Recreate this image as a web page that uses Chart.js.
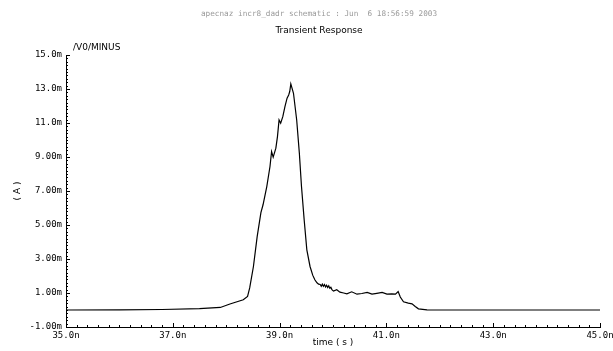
<!DOCTYPE html>
<html>
<head>
<meta charset="utf-8">
<script src="https://cdn.jsdelivr.net/npm/chart.js@4.4.1/dist/chart.umd.min.js"></script>
<style>
  html, body { margin: 0; padding: 0; background: #fff; }
</style>
</head>
<body>
<canvas id="myChart" width="613" height="351"></canvas>
<script>
// time in ns, current in mA
const timeNs = [
  35.0, 36.0, 36.8, 37.5, 37.89, 38.07, 38.32, 38.40, 38.44, 38.51, 38.58, 38.65, 38.69,
  38.76, 38.82, 38.85, 38.88, 38.93, 38.96, 38.99, 39.02, 39.06, 39.10, 39.14, 39.17,
  39.19, 39.21, 39.26, 39.32, 39.37, 39.41, 39.46, 39.51, 39.57, 39.62, 39.66, 39.70,
  39.73, 39.76, 39.78, 39.80, 39.82, 39.84, 39.86, 39.88, 39.90, 39.92, 39.94, 39.96,
  39.98, 40.01, 40.07, 40.13, 40.20, 40.26, 40.35, 40.45, 40.54, 40.64, 40.73, 40.82,
  40.92, 41.01, 41.10, 41.17, 41.22, 41.26, 41.32, 41.41, 41.48, 41.54, 41.60, 41.76,
  41.95, 42.3, 43.0, 44.0, 45.0
];
const currentMA = [
  0.0, 0.01, 0.03, 0.08, 0.15, 0.35, 0.60, 0.80, 1.30, 2.56, 4.32, 5.73, 6.19,
  7.26, 8.44, 9.32, 8.99, 9.52, 10.20, 11.18, 10.99, 11.37, 11.96, 12.46, 12.65,
  12.85, 13.30, 12.75, 11.18, 9.22, 7.26, 5.31, 3.54, 2.56, 2.05, 1.78, 1.60,
  1.52, 1.50, 1.40, 1.52, 1.40, 1.50, 1.36, 1.46, 1.32, 1.42, 1.28, 1.34,
  1.20, 1.11, 1.19, 1.05, 1.00, 0.95, 1.07, 0.93, 0.97, 1.03, 0.93, 0.98,
  1.03, 0.93, 0.95, 0.93, 1.09, 0.76, 0.48, 0.40, 0.36, 0.21, 0.07, 0.01,
  0.0, 0.0, 0.0, 0.0, 0.0
];
const xTicks = [35, 37, 39, 41, 43, 45];
const yTicks = [-1, 1, 3, 5, 7, 9, 11, 13, 15];
const headerText = 'apecnaz incr8_dadr schematic : Jun  6 18:56:59 2003';
const titleText = 'Transient Response';
const traceName = '/V0/MINUS';
const xTitle = 'time ( s )';
const yTitle = '( A )';

// inward major/minor tick marks, like the simulator plot
const axisTicks = {
  id: 'axisTicks',
  afterDraw(chart) {
    const { ctx, chartArea: a, scales: { x, y } } = chart;
    ctx.save();
    ctx.strokeStyle = '#000';
    ctx.lineWidth = 1;
    ctx.beginPath();
    for (let i = 0; i <= 50; i++) {
      const px = Math.round(x.getPixelForValue(x.min + i * 0.2)) + 0.5;
      const len = i % 10 === 0 ? 4 : 2;
      ctx.moveTo(px, a.bottom);
      ctx.lineTo(px, a.bottom - len);
    }
    for (let i = 0; i <= 80; i++) {
      const py = Math.round(y.getPixelForValue(y.min + i * 0.2)) + 0.5;
      const len = i % 10 === 0 ? 4 : 2;
      ctx.moveTo(a.left, py);
      ctx.lineTo(a.left + len, py);
    }
    ctx.stroke();
    ctx.restore();
  }
};

// header lines, trace name and axis titles
const labels = {
  id: 'labels',
  afterDraw(chart) {
    const { ctx, chartArea: a } = chart;
    ctx.save();
    ctx.textBaseline = 'middle';
    ctx.textAlign = 'center';
    ctx.fillStyle = '#9a9a9a';
    ctx.font = '7.7px "DejaVu Sans Mono"';
    ctx.fillText(headerText, 319, 14);
    ctx.fillStyle = '#000';
    ctx.font = '9px "DejaVu Sans"';
    ctx.fillText(titleText, 319, 31);
    ctx.fillText(xTitle, (a.left + a.right) / 2, 343);
    ctx.textAlign = 'left';
    ctx.fillText(traceName, a.left + 7, 48);
    ctx.translate(18, (a.top + a.bottom) / 2);
    ctx.rotate(-Math.PI / 2);
    ctx.textAlign = 'center';
    ctx.fillText(yTitle, 0, 0);
    ctx.restore();
  }
};

const ctx = document.getElementById('myChart').getContext('2d');
const myChart = new Chart(ctx, {
  type: 'line',
  data: {
    datasets: [{
      label: traceName,
      data: timeNs.map((t, i) => ({ x: t, y: currentMA[i] })),
      borderColor: '#000',
      borderWidth: 1.2,
      pointRadius: 0,
      tension: 0,
    }],
  },
  options: {
    responsive: false,
    animation: false,
    layout: { padding: { top: 55, right: 13, left: 0, bottom: 0 } },
    plugins: {
      legend: { display: false },
      tooltip: { enabled: false },
    },
    scales: {
      x: {
        type: 'linear',
        min: 35,
        max: 45,
        afterBuildTicks: (s) => { s.ticks = xTicks.map(v => ({ value: v })); },
        afterFit: (s) => { s.height = 24; s.paddingLeft = 0; s.paddingRight = 0; },
        grid: { display: true, drawOnChartArea: false, drawTicks: false },
        border: { display: true, color: '#000', width: 1 },
        ticks: {
          color: '#000',
          padding: 3,
          maxRotation: 0,
          font: { family: 'DejaVu Sans Mono', size: 9 },
          callback: (v) => v.toPrecision(3) + 'n',
        },
      },
      y: {
        min: -1,
        max: 15,
        afterBuildTicks: (s) => { s.ticks = yTicks.map(v => ({ value: v })); },
        afterFit: (s) => { s.width = 66; s.paddingTop = 0; s.paddingBottom = 0; },
        grid: { display: true, drawOnChartArea: false, drawTicks: false },
        border: { display: true, color: '#000', width: 1 },
        ticks: {
          color: '#000',
          padding: 4,
          font: { family: 'DejaVu Sans Mono', size: 9 },
          callback: (v) => v.toPrecision(3) + 'm',
        },
      },
    },
  },
  plugins: [axisTicks, labels],
});
</script>
</body>
</html>
